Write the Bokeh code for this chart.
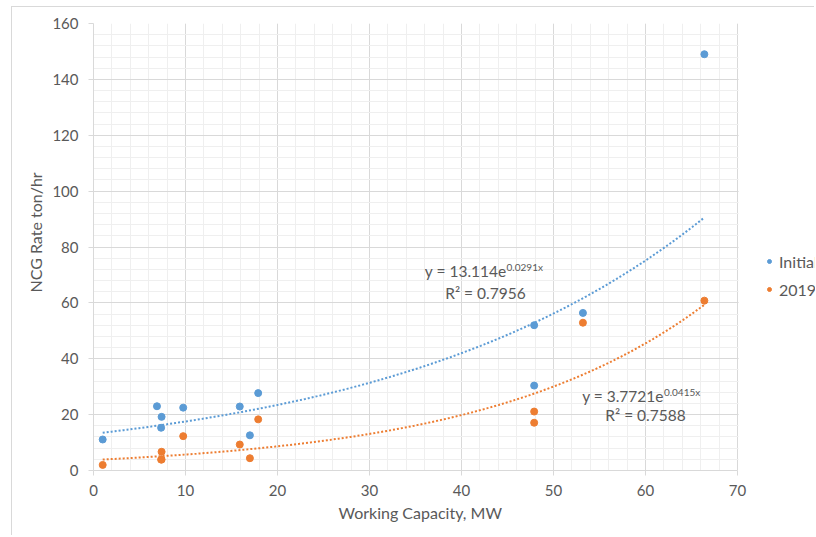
import numpy as np
from bokeh.plotting import figure
from bokeh.models import (Range1d, SingleIntervalTicker, Label, Legend, LegendItem,
                          BoxAnnotation, Title)
from bokeh.embed import file_html
from bokeh.resources import INLINE

# ---- data ----
capacity = [1.0, 6.9, 7.4, 7.35, 9.75, 15.9, 17.0, 17.9, 47.9, 47.9, 53.2, 66.4]
initial_rate = [11.1, 23.0, 19.2, 15.3, 22.5, 22.9, 12.6, 27.7, 52.0, 30.4, 56.4, 149.0]
rate_2019 = [2.0, 6.7, 3.9, 3.9, 12.3, 9.3, 4.4, 18.3, 21.1, 17.1, 52.9, 60.8]
capacity_2019 = [1.0, 7.4, 7.35, 7.4, 9.75, 15.9, 17.0, 17.9, 47.9, 47.9, 53.2, 66.4]

series_names = ["Initial", "2019"]
trend_a = [13.114, 3.7721]
trend_b = [0.0291, 0.0415]
trend_r2 = ["0.7956", "0.7588"]

x_title = "Working Capacity, MW"
y_title = "NCG Rate ton/hr"
x_axis_max = 70
y_axis_max = 160
x_ticks_interval = 10
y_ticks_interval = 20

BLUE = "#5B9BD5"
ORANGE = "#ED7D31"
TXT = "#595959"
GRID = "#d9d9d9"
FONT = "Lato"

# frame spans the whole width (legend area included) so the legend isn't clipped
p = figure(width=803, height=529, output_backend="svg", toolbar_location=None,
           x_range=Range1d(0, 78.48), y_range=Range1d(0, y_axis_max),
           min_border_left=81, min_border_right=0, min_border_top=16, min_border_bottom=66)
p.styles = {"margin-left": "11px", "margin-top": "6px",
            "border-left": "1px solid #d9d9d9", "border-top": "1px solid #d9d9d9"}
p.background_fill_color = "white"
p.border_fill_color = "white"
p.outline_line_color = None

p.xaxis.ticker = SingleIntervalTicker(interval=x_ticks_interval, num_minor_ticks=5)
p.yaxis.ticker = SingleIntervalTicker(interval=y_ticks_interval, num_minor_ticks=5)
p.xaxis.bounds = (0, x_axis_max)

for ax in (p.xaxis, p.yaxis):
    ax.axis_line_color = GRID
    ax.major_tick_line_color = GRID
    ax.major_tick_out = 5
    ax.major_tick_in = 0
    ax.minor_tick_line_color = None
    ax.major_label_text_font = FONT
    ax.major_label_text_font_size = "15px"
    ax.major_label_text_color = TXT

p.xaxis.major_label_standoff = 9
p.yaxis.major_label_standoff = 10

# axis titles placed like Excel (centred on the plot area, not the whole frame)
p.add_layout(Title(text=x_title, align="left", offset=245, vertical_align="top",
                   standoff=8, text_font=FONT, text_font_size="16px",
                   text_font_style="normal", text_color=TXT), "below")
p.add_layout(Title(text=y_title, align="left", offset=178, vertical_align="bottom",
                   standoff=10, text_font=FONT, text_font_size="16px",
                   text_font_style="normal", text_color=TXT), "left")

p.xgrid.grid_line_color = GRID
p.ygrid.grid_line_color = GRID
p.xgrid.minor_grid_line_color = "#efefef"
p.ygrid.minor_grid_line_color = "#efefef"

# blank out the grid to the right of the plot area (legend zone)
p.add_layout(BoxAnnotation(left=x_axis_max + 0.12, fill_color="white", fill_alpha=1,
                           line_color=None, level="underlay"))

# trendlines from the displayed equations
colors = [BLUE, ORANGE]
xs_all = [capacity, capacity_2019]
for a, b, c, xs in zip(trend_a, trend_b, colors, xs_all):
    xx = np.linspace(min(xs), max(xs), 200)
    p.line(xx, a * np.exp(b * xx), line_color=c, line_width=2, line_dash="2 2")

r1 = p.scatter(capacity, initial_rate, size=7, color=BLUE)
r2 = p.scatter(capacity_2019, rate_2019, size=7, color=ORANGE)

# equation labels
eq_pos = [(44.9, 71.3, 42.6, 63.5), (62.0, 26.8, 60.0, 19.7)]
for a, b, r2s, (ex, ey, rx, ry) in zip(trend_a, trend_b, trend_r2, eq_pos):
    p.add_layout(Label(x=ex, y=ey, text=f"y = {a}e", text_align="right",
                       text_baseline="alphabetic", text_font=FONT,
                       text_font_size="15.5px", text_color=TXT))
    p.add_layout(Label(x=ex, y=ey, y_offset=4, text=f"{b}x", text_align="left",
                       text_baseline="alphabetic", text_font=FONT,
                       text_font_size="10px", text_color=TXT))
    p.add_layout(Label(x=rx, y=ry, text=f"R² = {r2s}", text_align="center",
                       text_baseline="alphabetic", text_font=FONT,
                       text_font_size="15.5px", text_color=TXT))

legend = Legend(items=[LegendItem(label=series_names[0], renderers=[r1]),
                       LegendItem(label=series_names[1], renderers=[r2])],
                location=(671, 171), padding=0, margin=0, spacing=8,
                glyph_width=10, glyph_height=20, label_height=20, label_standoff=5,
                label_text_font=FONT, label_text_font_size="16px",
                label_text_color=TXT, border_line_color=None,
                background_fill_alpha=0)
p.add_layout(legend)

open("out.html", "w").write(file_html(p, INLINE))
